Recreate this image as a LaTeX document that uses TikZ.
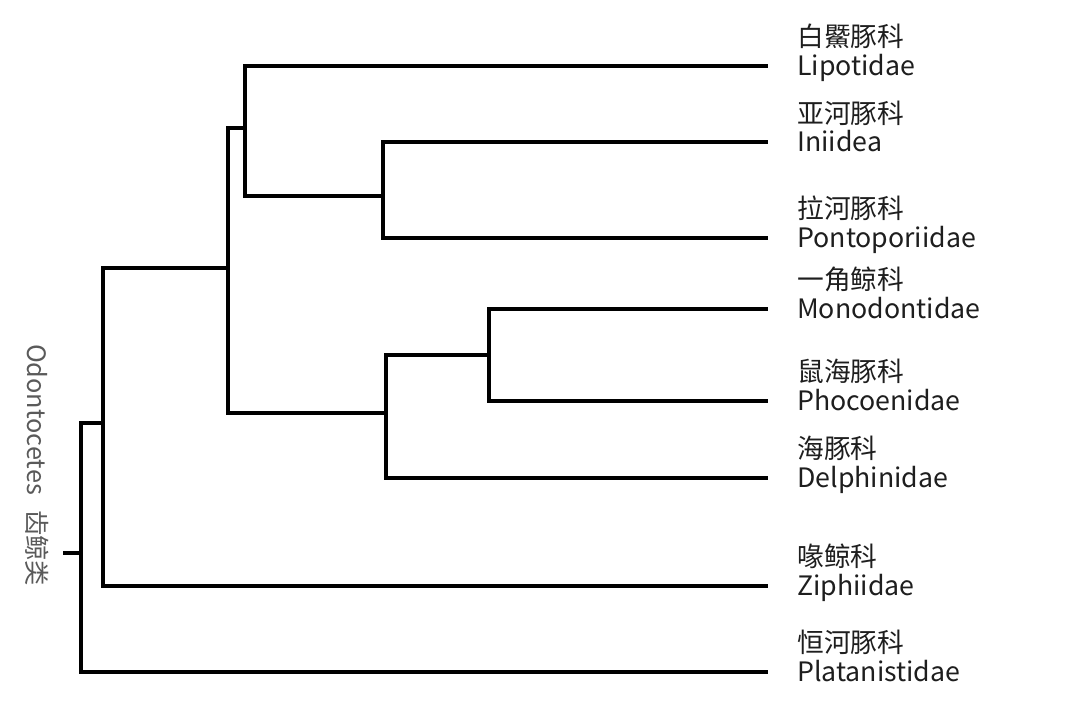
\documentclass[tikz,border=0pt]{standalone}
\usepackage{fontspec}
\setmainfont{Noto Sans CJK SC}
\usetikzlibrary{positioning}
\definecolor{inkgray}{HTML}{1E1E1E}
\definecolor{sidegray}{HTML}{5A5A5A}

\begin{document}
\begin{tikzpicture}[x=0.025cm, y=-0.025cm, font=\fontsize{19}{22}\selectfont,
    branch/.style={line width=3.4pt, black},
    leaf/.style={anchor=west, inner xsep=0.725cm, inner ysep=0pt, text height=13.5pt, text depth=0pt, text=inkgray},
    side/.style={text=sidegray, rotate=-90, inner sep=0pt, font=\fontsize{18}{21}\selectfont}]
  \useasboundingbox (0,0) rectangle (1080,704);

  % leaves
  \node[leaf] (lipo) at (768,66) {Lipotidae};
  \node[leaf] (inii) at (768,142) {Iniidea};
  \node[leaf] (ponto) at (768,238) {Pontoporiidae};
  \node[leaf] (mono) at (768,309) {Monodontidae};
  \node[leaf] (phoc) at (768,401) {Phocoenidae};
  \node[leaf] (delph) at (768,478) {Delphinidae};
  \node[leaf] (ziph) at (768,586) {Ziphiidae};
  \node[leaf] (plat) at (768,672) {Platanistidae};

  \node[leaf] (lipoCN) at ([yshift=0.725cm]lipo.west) {白鱀豚科};
  \node[leaf] (iniiCN) at ([yshift=0.7cm]inii.west) {亚河豚科};
  \node[leaf] (pontoCN) at ([yshift=0.725cm]ponto.west) {拉河豚科};
  \node[leaf] (monoCN) at ([yshift=0.725cm]mono.west) {一角鲸科};
  \node[leaf] (phocCN) at ([yshift=0.725cm]phoc.west) {鼠海豚科};
  \node[leaf] (delphCN) at ([yshift=0.725cm]delph.west) {海豚科};
  \node[leaf] (ziphCN) at ([yshift=0.725cm]ziph.west) {喙鲸科};
  \node[leaf] (platCN) at ([yshift=0.725cm]plat.west) {恒河豚科};

  \node[side] (odonto) at (37,465) {Odontocetes\hspace{0.6em}齿鲸类};

  % internal nodes
  \coordinate (nA) at (383,196);
  \coordinate (nB) at (245,128);
  \coordinate (nC) at (489,355);
  \coordinate (nD) at (386,413);
  \coordinate (nE) at (228,268);
  \coordinate (nF) at (103,423);
  \coordinate (nG) at (81,553);
  \coordinate (root) at (63,553);

  \draw[branch] (nA) |- (inii.west);
  \draw[branch] (nA) |- (ponto.west);
  \draw[branch] (nB) |- (lipo.west);
  \draw[branch] (nB) |- (nA);
  \draw[branch] (nC) |- (mono.west);
  \draw[branch] (nC) |- (phoc.west);
  \draw[branch] (nD) |- (nC);
  \draw[branch] (nD) |- (delph.west);
  \draw[branch] (nE) |- (nB);
  \draw[branch] (nE) |- (nD);
  \draw[branch] (nF) |- (nE);
  \draw[branch] (nF) |- (ziph.west);
  \draw[branch] (nG) |- (nF);
  \draw[branch] (nG) |- (plat.west);
  \draw[branch] (root) -- (nG);
\end{tikzpicture}
\end{document}
